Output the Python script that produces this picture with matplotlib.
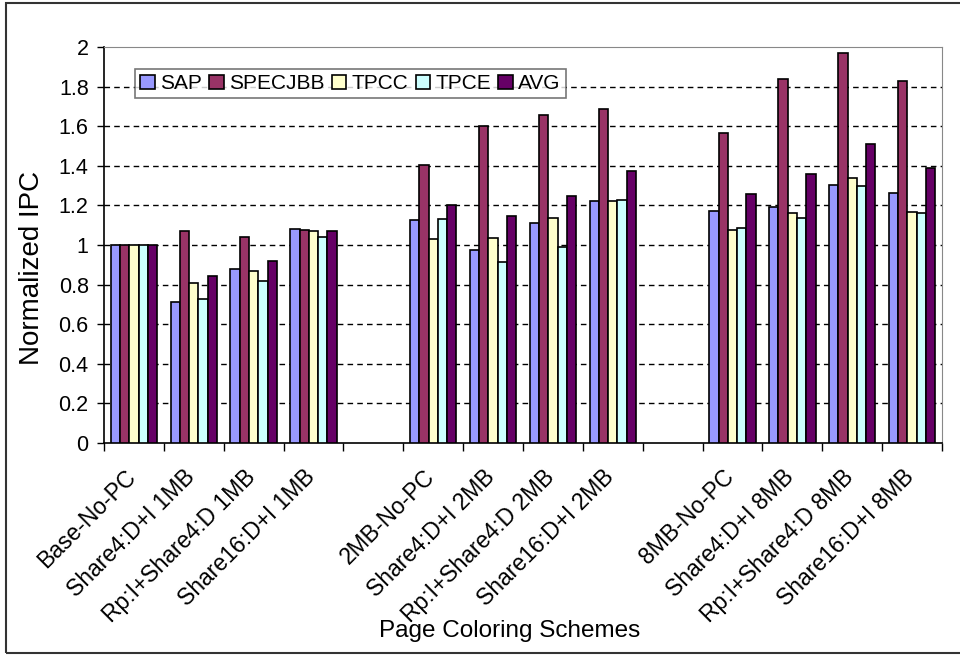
import numpy as np
import matplotlib.pyplot as plt
from matplotlib.patches import Rectangle
from matplotlib.transforms import ScaledTranslation

plt.rcParams['font.family'] = ['Liberation Sans', 'DejaVu Sans']

# categories, '' marks the empty slot between cache size groups
schemes = ['Base-No-PC', 'Share4:D+I 1MB', 'Rp:I+Share4:D 1MB', 'Share16:D+I 1MB', '',
           '2MB-No-PC', 'Share4:D+I 2MB', 'Rp:I+Share4:D 2MB', 'Share16:D+I 2MB', '',
           '8MB-No-PC', 'Share4:D+I 8MB', 'Rp:I+Share4:D 8MB', 'Share16:D+I 8MB']
nan = np.nan
sap     = [1.0, 0.712, 0.879, 1.083, nan, 1.128, 0.973, 1.110, 1.221, nan, 1.174, 1.192, 1.305, 1.265]
specjbb = [1.0, 1.071, 1.042, 1.078, nan, 1.405, 1.600, 1.659, 1.685, nan, 1.568, 1.840, 1.970, 1.826]
tpcc    = [1.0, 0.806, 0.868, 1.071, nan, 1.032, 1.034, 1.138, 1.224, nan, 1.074, 1.164, 1.336, 1.169]
tpce    = [1.0, 0.728, 0.818, 1.042, nan, 1.130, 0.912, 0.988, 1.228, nan, 1.088, 1.135, 1.297, 1.162]
avg     = [1.0, 0.845, 0.921, 1.071, nan, 1.201, 1.147, 1.250, 1.373, nan, 1.256, 1.361, 1.509, 1.390]

series = ['SAP', 'SPECJBB', 'TPCC', 'TPCE', 'AVG']
colors = ['#9999FF', '#993366', '#FFFFCC', '#CCFFFF', '#660066']
values = [sap, specjbb, tpcc, tpce, avg]
yticks = ['0', '0.2', '0.4', '0.6', '0.8', '1', '1.2', '1.4', '1.6', '1.8', '2']

fig = plt.figure(figsize=(9.6, 6.56), dpi=100)
ax = fig.add_axes([104/960, 1-443/656, 838/960, 396/656])

x = np.arange(len(schemes))
w = 0.155
for i, (name, vals, c) in enumerate(zip(series, values, colors)):
    ax.bar(x + (i - 2) * w, vals, w, color=c, edgecolor='black', linewidth=1.2,
           label=name, zorder=3)

ax.set_xlim(-0.5, len(schemes) - 0.5)
ax.set_ylim(0, 2)
ax.set_yticks(np.linspace(0, 2, 11))
ax.set_yticklabels(yticks, fontsize=15.5)
for yv in np.linspace(0.2, 1.8, 9):
    ax.axhline(yv, color='black', linestyle=(0, (4, 3)), linewidth=1, zorder=1)

ax.set_xticks(x)
ax.set_xticklabels(schemes, rotation=45, ha='right', va='top', rotation_mode='anchor',
                   fontsize=16.5)
ax.tick_params(axis='x', which='major', length=0, pad=16)
shift = ScaledTranslation(-0.10, 0, fig.dpi_scale_trans)
for lab in ax.get_xticklabels():
    lab.set_transform(lab.get_transform() + shift)
ax.set_xticks(np.arange(-0.5, len(schemes)), minor=True)
ax.tick_params(axis='x', which='minor', length=6, direction='out', width=1)
ax.tick_params(axis='y', length=5, direction='out', width=1, pad=6)

ax.spines['top'].set_color('#888888')
ax.spines['right'].set_color('#888888')
ax.spines['left'].set_linewidth(1.2)
ax.spines['bottom'].set_linewidth(1.2)

fig.text(32/960, 1-268/656, 'Normalized IPC', rotation=90, ha='center', va='center', fontsize=20)
fig.text(510/960, 1-637/656, 'Page Coloring Schemes', ha='center', va='baseline', fontsize=17.5)

leg = ax.legend(ncol=5, loc='upper left', bbox_to_anchor=(31/838, 1-22/396), fontsize=15,
                frameon=True, fancybox=False, edgecolor='#555555', handlelength=0.7,
                handleheight=0.7, handletextpad=0.25, columnspacing=0.35, borderpad=0.25,
                borderaxespad=0)
leg.get_frame().set_linewidth(1.2)

# outer frame, open at the right edge like the source image
fig.add_artist(Rectangle((6/960, 3/656), 1.0, 650/656, transform=fig.transFigure,
                         fill=False, edgecolor='#333333', linewidth=1.5))

fig.savefig('out.png', dpi=100)
